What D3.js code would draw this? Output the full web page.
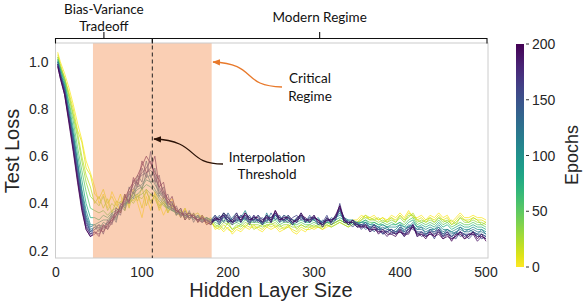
<!DOCTYPE html>
<html><head><meta charset="utf-8">
<script src="https://cdn.jsdelivr.net/npm/d3@7"></script>
<style>body{margin:0;background:#fff}svg{display:block}</style>
</head><body><svg id="c" width="586" height="304"></svg>
<script>
const hiddenSizes = [2,5,10,15,20,25,30,35,40,45,50,55,60,65,70,75,80,85,90,95,100,105,110,115,120,125,130,135,140,145,150,155,160,165,170,175,180,185,190,195,200,205,210,215,220,225,230,235,240,245,250,255,260,265,270,275,280,285,290,295,300,305,310,315,320,325,330,335,340,345,350,355,360,365,370,375,380,385,390,395,400,405,410,415,420,425,430,435,440,445,450,455,460,465,470,475,480,485,490,495,500];
const epochs = [1,10,20,30,50,75,100,115,125,140,150,160,175,190,200];
const lossE1 = [1.04,1.00,0.95,0.89,0.82,0.74,0.67,0.58,0.53,
 0.47,0.40,0.44,0.38,0.45,0.41,0.36,0.43,0.39,0.46,0.40,0.34,0.43,0.37,0.45,0.40,0.35,0.39,0.42,0.37,0.34,0.38,0.33,0.36,0.32,0.34,0.31,0.33,
 0.29,0.30,0.28,0.30,0.27,0.29,0.28,0.30,0.29,0.31,0.29,0.28,0.30,0.29,0.30,0.28,0.29,0.31,0.28,0.27,0.29,0.28,0.30,0.29,0.30,0.29,0.30,0.31,0.32,0.33,0.32,0.31,0.33,0.33,
 0.35,0.34,0.34,0.35,0.33,0.34,0.33,0.35,0.34,0.36,0.34,0.37,0.34,0.34,0.35,0.33,0.35,0.34,0.36,0.34,0.35,0.32,0.34,0.36,0.34,0.34,0.35,0.34,0.34,0.33];
const lossE10 = [1.03,0.99,0.93,0.87,0.80,0.71,0.66,0.55,0.52,
 0.44,0.42,0.46,0.40,0.43,0.39,0.44,0.37,0.42,0.41,0.44,0.38,0.46,0.40,0.44,0.37,0.41,0.36,0.39,0.35,0.37,0.33,0.36,0.34,0.33,0.35,0.32,0.33,
 0.30,0.29,0.31,0.29,0.28,0.30,0.29,0.31,0.30,0.30,0.30,0.29,0.31,0.30,0.31,0.29,0.30,0.30,0.29,0.28,0.30,0.29,0.29,0.30,0.30,0.29,0.31,0.30,0.31,0.32,0.31,0.30,0.32,0.32,
 0.34,0.35,0.33,0.34,0.33,0.34,0.32,0.34,0.33,0.35,0.33,0.36,0.35,0.33,0.34,0.32,0.34,0.33,0.35,0.33,0.34,0.31,0.33,0.35,0.33,0.33,0.34,0.33,0.33,0.32];
const lossE20 = [1.02,0.98,0.93,0.86,0.78,0.70,0.60,0.52,0.47,
 0.40,0.43,0.38,0.42,0.36,0.41,0.40,0.44,0.38,0.45,0.41,0.47,0.39,0.44,0.42,0.38,0.43,0.36,0.40,0.37,0.35,0.38,0.34,0.35,0.36,0.33,0.34,0.32,
 0.30,0.31,0.29,0.32,0.29,0.30,0.31,0.30,0.32,0.29,0.30,0.31,0.30,0.32,0.30,0.31,0.29,0.30,0.32,0.29,0.31,0.30,0.31,0.30,0.31,0.30,0.32,0.31,0.32,0.33,0.32,0.31,0.32,0.32,
 0.33,0.35,0.34,0.33,0.34,0.32,0.33,0.34,0.32,0.35,0.33,0.34,0.36,0.33,0.32,0.33,0.34,0.32,0.34,0.33,0.32,0.33,0.31,0.34,0.33,0.32,0.34,0.33,0.31,0.32];
const lossE30 = [1.02,0.98,0.93,0.85,0.77,0.68,0.58,0.49,0.43,
 0.41,0.39,0.43,0.37,0.40,0.38,0.41,0.39,0.42,0.40,0.43,0.42,0.45,0.41,0.43,0.39,0.40,0.37,0.38,0.36,0.37,0.34,0.36,0.35,0.34,0.35,0.33,0.34,
 0.31,0.30,0.32,0.31,0.29,0.31,0.30,0.32,0.31,0.31,0.31,0.30,0.31,0.31,0.32,0.30,0.31,0.31,0.30,0.30,0.31,0.30,0.30,0.31,0.30,0.30,0.31,0.30,0.31,0.32,0.31,0.30,0.31,0.31,
 0.33,0.34,0.33,0.33,0.32,0.33,0.32,0.33,0.32,0.34,0.32,0.35,0.35,0.32,0.33,0.32,0.33,0.32,0.34,0.32,0.33,0.31,0.32,0.34,0.32,0.32,0.33,0.32,0.32,0.31];
const lossE50 = [1.01,0.97,0.92,0.83,0.75,0.64,0.54,0.45,0.38,
 0.37,0.36,0.37,0.35,0.37,0.38,0.37,0.40,0.40,0.42,0.43,0.44,0.46,0.44,0.43,0.41,0.39,0.38,0.37,0.36,0.36,0.35,0.35,0.34,0.35,0.33,0.34,0.33,
 0.32,0.31,0.33,0.32,0.31,0.32,0.31,0.33,0.32,0.32,0.32,0.31,0.32,0.32,0.33,0.31,0.32,0.32,0.31,0.31,0.32,0.31,0.31,0.32,0.31,0.31,0.32,0.31,0.32,0.33,0.32,0.31,0.32,0.31,
 0.32,0.33,0.32,0.32,0.31,0.32,0.31,0.32,0.31,0.32,0.31,0.33,0.34,0.31,0.32,0.31,0.32,0.31,0.33,0.31,0.32,0.30,0.31,0.32,0.31,0.31,0.32,0.31,0.31,0.30];
const lossE75 = [1.01,0.97,0.91,0.82,0.72,0.61,0.50,0.40,0.34,
 0.34,0.33,0.35,0.34,0.36,0.37,0.38,0.40,0.41,0.43,0.44,0.46,0.48,0.47,0.45,0.42,0.40,0.38,0.37,0.37,0.35,0.36,0.34,0.35,0.34,0.33,0.34,0.33,
 0.33,0.32,0.34,0.33,0.32,0.33,0.32,0.34,0.32,0.33,0.33,0.31,0.33,0.33,0.34,0.32,0.33,0.33,0.31,0.32,0.33,0.32,0.32,0.33,0.32,0.31,0.32,0.32,0.33,0.34,0.33,0.31,0.32,0.31,
 0.32,0.33,0.31,0.32,0.31,0.31,0.30,0.31,0.31,0.32,0.30,0.32,0.33,0.30,0.31,0.30,0.31,0.30,0.32,0.30,0.31,0.29,0.30,0.31,0.30,0.30,0.31,0.30,0.30,0.29];
const lossE100 = [1.00,0.96,0.90,0.80,0.70,0.58,0.46,0.37,0.31,
 0.31,0.32,0.33,0.33,0.35,0.36,0.38,0.39,0.42,0.44,0.46,0.47,0.50,0.49,0.46,0.43,0.41,0.39,0.37,0.36,0.36,0.35,0.34,0.34,0.33,0.34,0.33,0.32,
 0.34,0.33,0.36,0.34,0.33,0.35,0.34,0.37,0.33,0.34,0.33,0.32,0.35,0.34,0.36,0.33,0.35,0.34,0.33,0.33,0.35,0.33,0.32,0.34,0.33,0.32,0.33,0.33,0.34,0.35,0.34,0.33,0.33,0.32,
 0.32,0.32,0.31,0.31,0.30,0.31,0.30,0.30,0.30,0.31,0.30,0.30,0.32,0.30,0.30,0.29,0.30,0.29,0.31,0.29,0.29,0.28,0.29,0.30,0.29,0.29,0.30,0.29,0.29,0.28];
const lossE115 = [1.00,0.95,0.89,0.79,0.69,0.57,0.45,0.35,0.30,
 0.31,0.29,0.32,0.31,0.36,0.33,0.39,0.37,0.44,0.42,0.49,0.46,0.53,0.49,0.50,0.43,0.45,0.38,0.40,0.35,0.37,0.34,0.36,0.33,0.35,0.32,0.34,0.33,
 0.35,0.33,0.36,0.32,0.34,0.36,0.32,0.35,0.34,0.33,0.35,0.31,0.36,0.32,0.35,0.34,0.33,0.35,0.31,0.34,0.35,0.32,0.34,0.33,0.34,0.31,0.34,0.32,0.35,0.37,0.32,0.33,0.31,0.32,
 0.30,0.32,0.29,0.31,0.30,0.29,0.30,0.28,0.29,0.31,0.28,0.31,0.30,0.29,0.30,0.27,0.29,0.29,0.30,0.27,0.29,0.28,0.27,0.30,0.28,0.29,0.28,0.27,0.29,0.27];
const lossE125 = [1.00,0.95,0.89,0.78,0.68,0.56,0.43,0.34,0.29,
 0.30,0.31,0.30,0.32,0.34,0.34,0.37,0.40,0.41,0.45,0.47,0.48,0.51,0.52,0.48,0.45,0.42,0.39,0.38,0.36,0.35,0.35,0.34,0.34,0.33,0.33,0.33,0.32,
 0.33,0.34,0.35,0.33,0.32,0.34,0.33,0.34,0.33,0.34,0.33,0.32,0.34,0.33,0.35,0.33,0.34,0.33,0.32,0.33,0.34,0.33,0.33,0.34,0.33,0.32,0.33,0.32,0.34,0.36,0.33,0.32,0.32,0.31,
 0.31,0.32,0.30,0.31,0.29,0.30,0.29,0.29,0.28,0.30,0.29,0.30,0.31,0.29,0.29,0.28,0.29,0.28,0.30,0.28,0.29,0.27,0.28,0.29,0.28,0.28,0.29,0.28,0.28,0.27];
const lossE140 = [0.99,0.94,0.88,0.77,0.67,0.54,0.42,0.33,0.28,
 0.30,0.28,0.31,0.29,0.35,0.32,0.40,0.38,0.47,0.44,0.52,0.49,0.58,0.51,0.55,0.44,0.47,0.39,0.41,0.35,0.38,0.33,0.37,0.32,0.35,0.32,0.34,0.31,
 0.33,0.35,0.32,0.36,0.33,0.32,0.35,0.33,0.35,0.32,0.33,0.34,0.32,0.36,0.33,0.35,0.32,0.34,0.33,0.32,0.36,0.32,0.35,0.33,0.31,0.33,0.32,0.34,0.33,0.38,0.34,0.31,0.33,0.30,
 0.31,0.29,0.30,0.28,0.30,0.27,0.29,0.28,0.27,0.30,0.27,0.28,0.31,0.27,0.28,0.26,0.29,0.27,0.28,0.26,0.28,0.26,0.28,0.26,0.27,0.26,0.28,0.26,0.27,0.26];
const lossE150 = [0.99,0.95,0.88,0.77,0.66,0.53,0.41,0.32,0.28,
 0.29,0.30,0.29,0.32,0.32,0.35,0.38,0.40,0.45,0.46,0.50,0.52,0.53,0.54,0.52,0.46,0.43,0.41,0.38,0.37,0.36,0.34,0.35,0.34,0.34,0.33,0.32,0.33,
 0.33,0.33,0.34,0.34,0.32,0.33,0.33,0.35,0.33,0.33,0.33,0.32,0.33,0.34,0.35,0.33,0.33,0.34,0.32,0.33,0.34,0.33,0.33,0.34,0.33,0.32,0.33,0.33,0.34,0.37,0.34,0.32,0.33,0.31,
 0.31,0.31,0.30,0.30,0.29,0.29,0.28,0.29,0.28,0.29,0.28,0.29,0.30,0.28,0.28,0.27,0.28,0.28,0.29,0.27,0.28,0.26,0.27,0.28,0.27,0.27,0.28,0.27,0.27,0.26];
const lossE160 = [0.99,0.94,0.87,0.76,0.65,0.52,0.40,0.31,0.27,
 0.29,0.31,0.27,0.33,0.31,0.37,0.35,0.43,0.41,0.50,0.47,0.55,0.51,0.62,0.49,0.52,0.42,0.44,0.37,0.39,0.34,0.37,0.33,0.36,0.32,0.34,0.33,0.31,
 0.34,0.31,0.35,0.35,0.32,0.33,0.35,0.34,0.31,0.35,0.32,0.33,0.35,0.32,0.36,0.34,0.33,0.32,0.34,0.35,0.33,0.34,0.32,0.35,0.31,0.32,0.35,0.31,0.33,0.40,0.33,0.32,0.30,0.32,
 0.29,0.31,0.28,0.29,0.29,0.27,0.28,0.27,0.28,0.28,0.26,0.30,0.29,0.28,0.26,0.27,0.28,0.25,0.29,0.26,0.27,0.26,0.25,0.28,0.27,0.25,0.27,0.27,0.25,0.26];
const lossE175 = [0.99,0.94,0.87,0.76,0.64,0.51,0.39,0.30,0.27,
 0.28,0.27,0.30,0.30,0.34,0.36,0.37,0.41,0.44,0.48,0.50,0.53,0.55,0.58,0.51,0.47,0.44,0.40,0.39,0.38,0.35,0.36,0.34,0.35,0.33,0.32,0.33,0.32,
 0.35,0.32,0.35,0.33,0.31,0.34,0.34,0.35,0.32,0.35,0.33,0.31,0.34,0.34,0.36,0.32,0.35,0.33,0.31,0.34,0.35,0.32,0.34,0.34,0.33,0.31,0.33,0.33,0.34,0.38,0.34,0.32,0.32,0.30,
 0.31,0.30,0.29,0.31,0.28,0.28,0.28,0.29,0.27,0.28,0.27,0.29,0.31,0.26,0.28,0.26,0.27,0.27,0.29,0.26,0.28,0.25,0.26,0.28,0.26,0.27,0.27,0.26,0.26,0.25];
const lossE190 = [0.98,0.93,0.86,0.75,0.63,0.50,0.38,0.29,0.26,
 0.28,0.26,0.31,0.29,0.32,0.38,0.36,0.44,0.40,0.51,0.48,0.58,0.53,0.55,0.60,0.47,0.49,0.40,0.43,0.36,0.38,0.33,0.35,0.35,0.32,0.35,0.31,0.32,
 0.33,0.34,0.35,0.32,0.33,0.36,0.32,0.36,0.34,0.33,0.35,0.33,0.34,0.32,0.37,0.34,0.33,0.35,0.33,0.32,0.35,0.34,0.32,0.34,0.33,0.30,0.33,0.33,0.34,0.39,0.32,0.32,0.32,0.30,
 0.30,0.30,0.29,0.29,0.28,0.28,0.26,0.28,0.27,0.28,0.27,0.27,0.31,0.26,0.27,0.26,0.27,0.26,0.27,0.25,0.26,0.25,0.26,0.28,0.25,0.27,0.27,0.24,0.26,0.25];
const lossE200 = [0.98,0.93,0.86,0.74,0.62,0.49,0.37,0.29,0.26,
 0.27,0.29,0.28,0.31,0.33,0.35,0.39,0.42,0.46,0.49,0.52,0.56,0.60,0.57,0.53,0.50,0.45,0.42,0.40,0.37,0.36,0.35,0.36,0.34,0.33,0.34,0.32,0.31,
 0.34,0.33,0.36,0.34,0.32,0.35,0.33,0.36,0.33,0.34,0.34,0.32,0.35,0.33,0.37,0.33,0.34,0.34,0.32,0.33,0.36,0.33,0.33,0.35,0.32,0.31,0.34,0.32,0.35,0.39,0.33,0.31,0.33,0.31,
 0.30,0.31,0.28,0.30,0.27,0.29,0.27,0.27,0.26,0.29,0.26,0.28,0.30,0.27,0.27,0.25,0.28,0.26,0.28,0.25,0.27,0.24,0.27,0.27,0.25,0.26,0.28,0.25,0.27,0.24];
const lossSeries = [lossE1,lossE10,lossE20,lossE30,lossE50,lossE75,lossE100,lossE115,lossE125,lossE140,lossE150,lossE160,lossE175,lossE190,lossE200];
const xTicks = [0,100,200,300,400,500];
const yTicks = [0.2,0.4,0.6,0.8,1.0];
const cbTicks = [0,50,100,150,200];
const criticalRange = [43,181];
const interpolationThreshold = 112;

const svg = d3.select('#c');
const plot = {l:55.5, r:488, t:43, b:258};
const x = d3.scaleLinear().domain([0,500]).range([56,486]);
const y = d3.scaleLinear().domain([0.2,1.0]).range([250.7,61.7]);
const color = e => d3.interpolateViridis(1 - e/200);
const axisFont = "'Liberation Sans', Arial, sans-serif";
const annFont = "Lato, 'Open Sans', sans-serif";
const txt = '#262626';

const defs = svg.append('defs');
defs.append('clipPath').attr('id','clip').append('rect')
  .attr('x',plot.l).attr('y',plot.t).attr('width',plot.r-plot.l).attr('height',plot.b-plot.t);

const lineGen = d3.line().x((d,i)=>x(hiddenSizes[i])).y(d=>y(d));
const gl = svg.append('g').attr('clip-path','url(#clip)');
lossSeries.forEach((s,k)=>{
  gl.append('path').attr('d',lineGen(s)).attr('fill','none')
    .attr('stroke',color(epochs[k])).attr('stroke-width',0.85).attr('stroke-opacity',0.9)
    .attr('stroke-linejoin','round');
});
svg.append('rect').attr('x',x(criticalRange[0])).attr('y',plot.t)
  .attr('width',x(criticalRange[1])-x(criticalRange[0])).attr('height',plot.b-plot.t)
  .attr('fill','#f5a06a').attr('fill-opacity',0.5);
svg.append('rect').attr('x',plot.l).attr('y',plot.t).attr('width',plot.r-plot.l).attr('height',plot.b-plot.t)
  .attr('fill','none').attr('stroke','#cccccc').attr('stroke-width',1);
svg.append('line').attr('x1',x(interpolationThreshold)).attr('x2',x(interpolationThreshold))
  .attr('y1',38.5).attr('y2',plot.b).attr('stroke','#222').attr('stroke-width',1).attr('stroke-dasharray','4,3');

const bx0 = plot.l, bx1 = x(interpolationThreshold), bx2 = plot.r - 1;
const br = svg.append('g').attr('stroke','#111').attr('stroke-width',1.1).attr('fill','none');
br.append('path').attr('d',`M${bx0},43.5V38.5H${bx1}V43.5M${(bx0+bx1)/2},38.5V32`);
br.append('path').attr('d',`M${bx1},38.5H${bx2}V43.5M${(bx1+bx2)/2},38.5V32`);
const annText = (t,xx,yy)=>svg.append('text').attr('x',xx).attr('y',yy).attr('text-anchor','middle')
  .attr('font-family',annFont).attr('font-size',13.5).attr('fill','#111').text(t);
annText('Bias-Variance',(bx0+bx1)/2,13.5);
annText('Tradeoff',(bx0+bx1)/2,30.5);
annText('Modern Regime',(bx1+bx2)/2,21.5);

svg.append('g').selectAll('text').data(xTicks).join('text')
  .attr('x',d=>x(d)).attr('y',277).attr('text-anchor','middle')
  .attr('font-family',axisFont).attr('font-size',14).attr('fill',txt).text(d=>d);
svg.append('g').selectAll('text').data(yTicks).join('text')
  .attr('x',48.5).attr('y',d=>y(d)+5).attr('text-anchor','end')
  .attr('font-family',axisFont).attr('font-size',14).attr('fill',txt).text(d=>d.toFixed(1));
svg.append('text').attr('x',271).attr('y',297).attr('text-anchor','middle')
  .attr('font-family',axisFont).attr('font-size',20).attr('fill',txt).text('Hidden Layer Size');
svg.append('text').attr('transform','translate(19,151) rotate(-90)').attr('text-anchor','middle')
  .attr('font-family',axisFont).attr('font-size',20).attr('fill',txt).text('Test Loss');

const mk = (id,c)=>defs.append('marker').attr('id',id).attr('viewBox','0 0 10 10').attr('refX',9).attr('refY',5)
  .attr('markerWidth',6).attr('markerHeight',6).attr('orient','auto-start-reverse')
  .append('path').attr('d','M0,1L10,5L0,9z').attr('fill',c);
mk('aO','#e8792b'); mk('aB','#2a1206');
svg.append('path').attr('d','M282,87C240,86 258,64 213,62').attr('fill','none')
  .attr('stroke','#e8792b').attr('stroke-width',1.3).attr('marker-end','url(#aO)');
svg.append('path').attr('d','M223,164C185,164 200,141 154,139').attr('fill','none')
  .attr('stroke','#2a1206').attr('stroke-width',1.3).attr('marker-end','url(#aB)');
annText('Critical',310,83); annText('Regime',310,101);
annText('Interpolation',267,162); annText('Threshold',267,178.5);

const cb = d3.scaleLinear().domain([0,200]).range([267,44]);
const grad = defs.append('linearGradient').attr('id','vg').attr('x1',0).attr('x2',0).attr('y1',1).attr('y2',0);
d3.range(0,1.0001,0.05).forEach(t=>grad.append('stop').attr('offset',t).attr('stop-color',d3.interpolateViridis(1-t)));
svg.append('rect').attr('x',516).attr('y',cb(200)).attr('width',8).attr('height',cb(0)-cb(200)).attr('fill','url(#vg)');
svg.append('g').selectAll('line').data(cbTicks).join('line')
  .attr('x1',526).attr('x2',529).attr('y1',d=>cb(d)).attr('y2',d=>cb(d)).attr('stroke','#333').attr('stroke-width',1);
svg.append('g').selectAll('text').data(cbTicks).join('text')
  .attr('x',532).attr('y',d=>cb(d)+5).attr('font-family',axisFont).attr('font-size',14).attr('fill',txt).text(d=>d);
svg.append('text').attr('transform','translate(578,155) rotate(-90)').attr('text-anchor','middle')
  .attr('font-family',axisFont).attr('font-size',18).attr('fill',txt).text('Epochs');
</script></body></html>
